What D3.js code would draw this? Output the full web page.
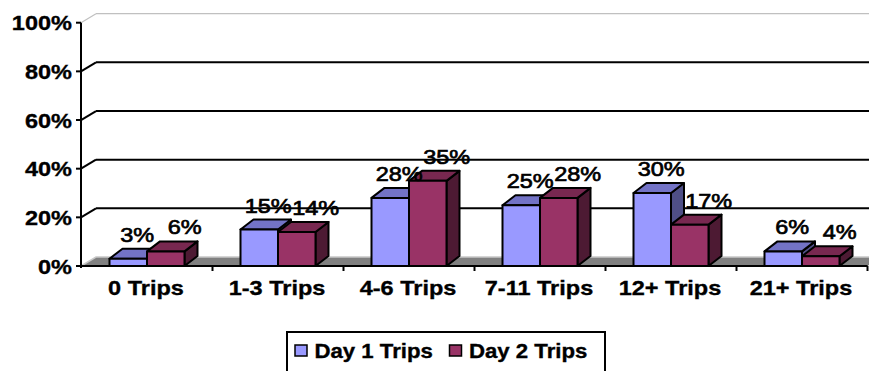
<!DOCTYPE html>
<html>
<head>
<meta charset="utf-8">
<script src="https://cdn.jsdelivr.net/npm/d3@7"></script>
<style>
  html, body { margin: 0; padding: 0; background: #fff; }
  svg { display: block; }
  text { font-family: "Liberation Sans", Arial, sans-serif; fill: #000; }
</style>
</head>
<body>
<svg id="chart" width="869" height="371"></svg>
<script>
// Trip-count distribution, share of respondents per day
const categories = ["0 Trips", "1-3 Trips", "4-6 Trips", "7-11 Trips", "12+ Trips", "21+ Trips"];
const seriesNames = ["Day 1 Trips", "Day 2 Trips"];
const day1Values = [3, 15, 28, 25, 30, 6];
const day2Values = [6, 14, 35, 28, 17, 4];
const yTicks = [0, 20, 40, 60, 80, 100];

const seriesValues = [day1Values, day2Values];
const palette = [
  { front: "#9999FF", top: "#7373C6", side: "#4F4F86" },
  { front: "#993366", top: "#782850", side: "#4D1A33" }
];
// horizontal label shift per series (data labels sit right of the bar top)
const labelShift = [9, 19];

const svg = d3.select("#chart");
const stretch = 1.12;           // wide glyph rendering
const depth = { dx: 15, dy: -9 };     // back wall offset
const barDepth = { dx: 13, dy: -10 }; // column depth

const x = d3.scaleBand().domain(categories).range([81.5, 867.5]).paddingInner(0).paddingOuter(0);
const xSub = d3.scaleBand().domain(seriesNames).range([0, 75]).padding(0);
const y = d3.scaleLinear().domain([0, 100]).range([266, 22.7]);

function addText(g, tx, ty, str, opts) {
  return g.append("text")
    .attr("transform", `translate(${tx},${ty}) scale(${opts.sx || stretch},1)`)
    .attr("text-anchor", opts.anchor || "start")
    .attr("font-size", opts.size)
    .attr("font-weight", opts.weight || "bold")
    .attr("stroke", "#000")
    .attr("stroke-width", opts.weight === "normal" ? 0.7 : 0.35)
    .text(str);
}

const xLeft = x.range()[0] - 0.5;
const xRight = x.range()[1];

// Floor
svg.append("path")
  .attr("d", d3.line()([[xLeft, y(0)], [xRight, y(0)], [xRight + depth.dx, y(0) + depth.dy], [xLeft + depth.dx, y(0) + depth.dy]]) + "Z")
  .attr("fill", "#808080");
svg.append("path")
  .attr("d", d3.line()([[xLeft, y(0)], [xLeft + depth.dx, y(0) + depth.dy], [xRight + depth.dx, y(0) + depth.dy]]))
  .attr("fill", "none").attr("stroke", "#C8C8C8").attr("stroke-width", 1.5);

// Back-wall gridlines and their slanted connectors to the axis
yTicks.filter(t => t > 0).forEach(t => {
  const col = t === 100 ? "#C0C0C0" : "#000";
  const w = t === 100 ? 1.2 : 2;
  svg.append("line")
    .attr("x1", xLeft + depth.dx).attr("x2", xRight + depth.dx)
    .attr("y1", y(t) + depth.dy).attr("y2", y(t) + depth.dy)
    .attr("stroke", col).attr("stroke-width", w);
  svg.append("line")
    .attr("x1", xLeft).attr("x2", xLeft + depth.dx)
    .attr("y1", y(t)).attr("y2", y(t) + depth.dy)
    .attr("stroke", col).attr("stroke-width", w);
});

// Columns
const bars = svg.append("g");
categories.forEach((cat, i) => {
  seriesNames.forEach((s, k) => {
    const v = seriesValues[k][i];
    const x0 = x(cat) + x.bandwidth() / 2 - 37.5 + xSub(s);
    const x1 = x0 + xSub.bandwidth();
    const yt = y(v), yb = y(0);
    const { dx, dy } = barDepth;
    const c = palette[k];
    const g = bars.append("g").attr("stroke", "#000").attr("stroke-width", 2).attr("stroke-linejoin", "round");
    g.append("path").attr("fill", c.side)
      .attr("d", d3.line()([[x1, yb], [x1, yt], [x1 + dx, yt + dy], [x1 + dx, yb + dy]]) + "Z");
    g.append("path").attr("fill", c.top)
      .attr("d", d3.line()([[x0, yt], [x1, yt], [x1 + dx, yt + dy], [x0 + dx, yt + dy]]) + "Z");
    g.append("rect").attr("fill", c.front)
      .attr("x", x0).attr("y", yt).attr("width", x1 - x0).attr("height", yb - yt);
  });
});

// Axes
svg.append("line").attr("x1", xLeft).attr("x2", xLeft).attr("y1", y(100)).attr("y2", y(0) + 2)
  .attr("stroke", "#000").attr("stroke-width", 2);
svg.append("line").attr("x1", xLeft).attr("x2", xRight).attr("y1", y(0)).attr("y2", y(0))
  .attr("stroke", "#000").attr("stroke-width", 2);
yTicks.forEach(t => {
  svg.append("line").attr("x1", xLeft - 5).attr("x2", xLeft).attr("y1", y(t)).attr("y2", y(t))
    .attr("stroke", "#000").attr("stroke-width", 2);
  addText(svg, xLeft - 9, y(t) + 7.5, t + "%", { size: 21, anchor: "end" });
});
categories.forEach((cat, i) => {
  const bx = x(cat) + x.bandwidth();
  svg.append("line").attr("x1", bx).attr("x2", bx).attr("y1", y(0)).attr("y2", y(0) + 5)
    .attr("stroke", "#000").attr("stroke-width", 2);
  addText(svg, x(cat) + x.bandwidth() / 2 - 1, 295, cat, { size: 21, anchor: "middle" });
});

// Data labels
categories.forEach((cat, i) => {
  seriesNames.forEach((s, k) => {
    const v = seriesValues[k][i];
    const cx = x(cat) + x.bandwidth() / 2 - 37.5 + xSub(s) + xSub.bandwidth() / 2 + labelShift[k];
    addText(svg, cx, y(v) - 17, v + "%", { size: 21, anchor: "middle", weight: "normal" });
  });
});

// Legend
const lg = svg.append("g");
lg.append("rect").attr("x", 287).attr("y", 332).attr("width", 318).attr("height", 60)
  .attr("fill", "#fff").attr("stroke", "#000").attr("stroke-width", 2);
const legendX = [295, 449.5];
seriesNames.forEach((s, k) => {
  lg.append("rect").attr("x", legendX[k]).attr("y", 345).attr("width", 12).attr("height", 11)
    .attr("fill", palette[k].front).attr("stroke", "#000").attr("stroke-width", 1.5);
  addText(lg, legendX[k] + 19.5, 357.5, s, { size: 20, sx: 1.11 });
});
</script>
</body>
</html>
